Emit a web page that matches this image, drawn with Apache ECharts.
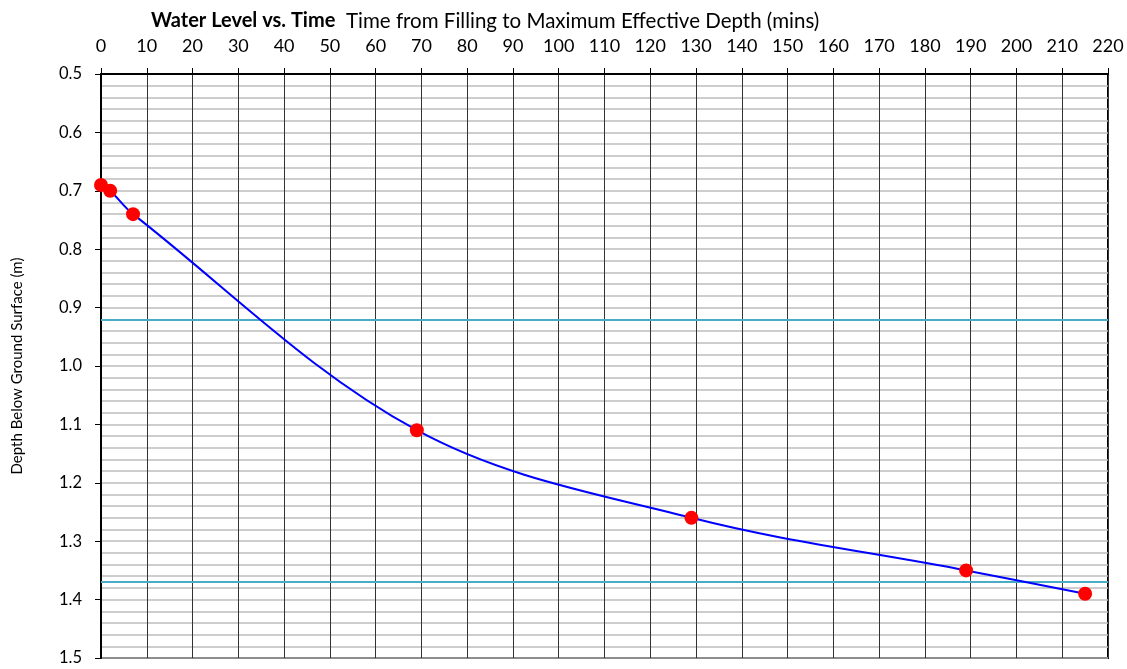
<!DOCTYPE html>
<html>
<head>
<meta charset="utf-8">
<script src="https://cdn.jsdelivr.net/npm/echarts@6/dist/echarts.min.js"></script>
<style>
  html, body { margin: 0; padding: 0; background: #fff; }
  #chart { width: 1127px; height: 669px; }
</style>
</head>
<body>
<div id="chart"></div>
<script>
// Readings: elapsed time (mins) and water depth below ground (m)
const timeMins = [0, 2, 7, 69, 129, 189, 215];
const depthM = [0.69, 0.70, 0.74, 1.11, 1.26, 1.35, 1.39];
// Reference levels drawn as horizontal lines (m)
const refLevels = [0.918, 1.374];

const chart = echarts.init(document.getElementById('chart'));
const FONT = 'Lato, "Open Sans", sans-serif';

chart.setOption({
  animation: false,
  backgroundColor: '#ffffff',
  textStyle: { fontFamily: FONT },
  title: [
    {
      text: 'Water Level vs. Time',
      left: 146, top: 6,
      textStyle: { fontFamily: FONT, fontSize: 20, fontWeight: 'bold', color: '#000' }
    },
    {
      text: 'Time from Filling to Maximum Effective Depth (mins)',
      left: 341, top: 6,
      textStyle: { fontFamily: FONT, fontSize: 20.5, fontWeight: 'normal', color: '#000' }
    }
  ],
  grid: {
    left: 101, right: 19, top: 74, bottom: 11,
    show: true, borderColor: '#000', borderWidth: 2, backgroundColor: 'transparent'
  },
  xAxis: {
    type: 'value',
    position: 'top',
    min: 0, max: 220, interval: 10,
    axisLine: { show: true, lineStyle: { color: '#000', width: 2 } },
    axisTick: { show: true, inside: false, length: 6, lineStyle: { color: '#000', width: 1 } },
    axisLabel: { margin: 19, fontSize: 18, color: '#000', fontFamily: FONT },
    splitLine: { show: true, lineStyle: { color: '#333333', width: 1 } }
  },
  yAxis: {
    type: 'value',
    inverse: true,
    min: 0.5, max: 1.5, interval: 0.1,
    name: 'Depth Below Ground Surface (m)',
    nameLocation: 'middle',
    nameGap: 76,
    nameTextStyle: { fontSize: 15, color: '#000', fontFamily: FONT },
    axisLine: { show: true, lineStyle: { color: '#000', width: 2 } },
    axisTick: { show: true, inside: false, length: 6, lineStyle: { color: '#000', width: 1 } },
    axisLabel: {
      margin: 19, fontSize: 16.5, color: '#000', fontFamily: FONT,
      formatter: v => v.toFixed(1)
    },
    splitLine: { show: true, lineStyle: { color: '#bdbdbd', width: 1.5 } },
    minorTick: { show: false, splitNumber: 5 },
    minorSplitLine: { show: true, lineStyle: { color: '#bdbdbd', width: 1.5 } }
  },
  series: [
    {
      type: 'line',
      data: timeMins.map((t, i) => [t, depthM[i]]),
      smooth: 0.35,
      symbol: 'circle',
      symbolSize: 14,
      lineStyle: { color: '#0000ff', width: 2 },
      itemStyle: { color: '#ff0000', borderWidth: 0 },
      z: 5,
      markLine: {
        silent: true,
        symbol: ['none', 'none'],
        label: { show: false },
        lineStyle: { color: '#4bacc6', width: 2, type: 'solid' },
        data: refLevels.map(v => ({ yAxis: v }))
      }
    }
  ]
});
</script>
</body>
</html>
